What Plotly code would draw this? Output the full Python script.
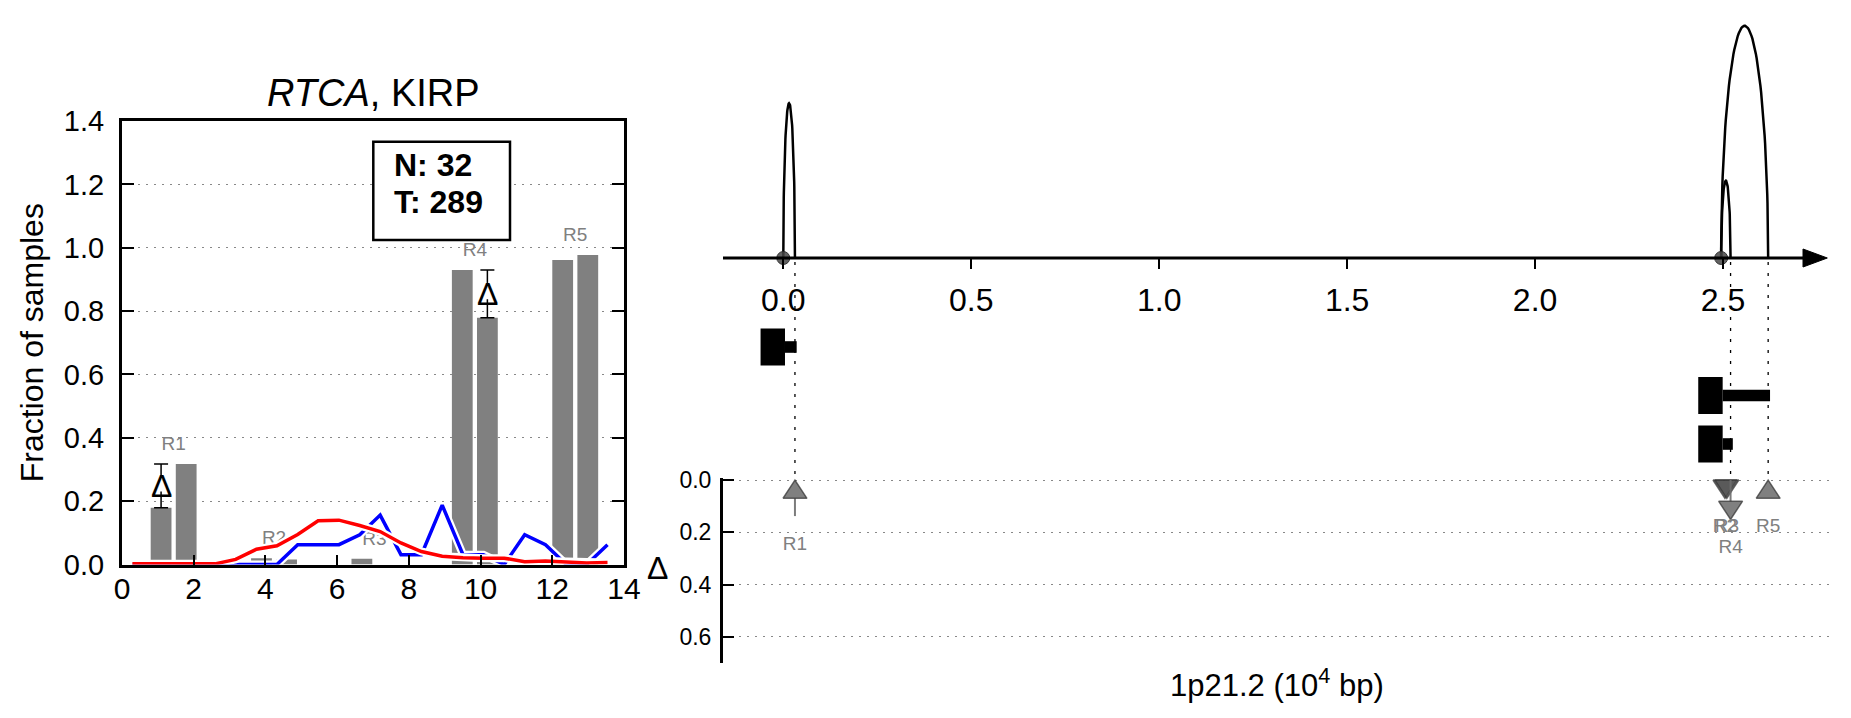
import numpy as np
import plotly.graph_objects as go

W, H = 1851, 718
FONT = "Liberation Sans, Arial, sans-serif"

# ------------------------------------------------------------------ data
gene_name = "RTCA"
cancer_type = "KIRP"
n_normal = 32
n_tumor = 289
regions = ["R1", "R2", "R3", "R4", "R5"]
frac_first = [0.179, 0.020, 0.018, 0.930, 0.961]
frac_second = [0.317, 0.016, 0.000, 0.779, 0.977]
significant = [True, False, False, True, False]

dist_x = [0.29, 0.87, 1.44, 2.02, 2.59, 3.17, 3.75, 4.32, 4.90, 5.47, 6.05, 6.63,
          7.20, 7.78, 8.35, 8.93, 9.51, 10.08, 10.66, 11.23, 11.81, 12.39, 12.96, 13.54]
dist_normal = [0.0, 0.0, 0.0, 0.0, 0.0, 0.0, 0.0, 0.0, 0.0625, 0.0625, 0.0625, 0.094,
               0.156, 0.031, 0.031, 0.1875, 0.031, 0.031, 0.0, 0.094, 0.0625, 0.0, 0.0, 0.0625]
dist_tumor = [0.002, 0.002, 0.002, 0.002, 0.002, 0.016, 0.048, 0.059, 0.095, 0.138, 0.140, 0.123,
              0.104, 0.068, 0.041, 0.026, 0.021, 0.020, 0.020, 0.009, 0.011, 0.008, 0.005, 0.006]
left_xticks = [0, 2, 4, 6, 8, 10, 12, 14]
left_yticks = [0.0, 0.2, 0.4, 0.6, 0.8, 1.0, 1.2, 1.4]

arc_start = [0.0, 2.495, 2.495]
arc_end = [0.031, 2.520, 2.620]
arc_height = [0.6, 0.3, 0.9]
tx_start = [0.0045, 2.499, 2.499]
tx_end = [0.0356, 2.625, 2.526]
region_pos = [0.031, 2.505, 2.510, 2.520, 2.620]
right_xticks = [0.0, 0.5, 1.0, 1.5, 2.0, 2.5]
delta_ticks = [0.0, 0.2, 0.4, 0.6]
locus_title = "1p21.2 (10<sup>4</sup> bp)"

# ------------------------------------------------------------------ layout helpers
def pxx(p):
    return p / W

def pxy(p):
    return 1 - p / H

X0_PX, PX_PER = 783.3, 375.9        # right panel genomic axis mapping
R_LEFT, R_RIGHT = 723.0, 1830.0
x2_range = [(R_LEFT - X0_PX) / PX_PER, (R_RIGHT - X0_PX) / PX_PER]
AXIS_Y = 258.0
D0_PX, D_PER = 480.0, 261.4          # delta axis mapping

fig = go.Figure()

# ------------------------------------------------------------------ left panel
gc = [2.8 * i + 1.44 for i in range(len(regions))]
xa = [c - 0.35 for c in gc]
xb = [c + 0.35 for c in gc]
fig.add_trace(go.Bar(x=xa, y=frac_first, width=0.58, marker=dict(color="#808080", line=dict(width=0)),
                     xaxis="x", yaxis="y"))
fig.add_trace(go.Bar(x=xb, y=frac_second, width=0.58, marker=dict(color="#808080", line=dict(width=0)),
                     xaxis="x", yaxis="y"))
fig.add_trace(go.Scatter(x=gc, y=[max(a, b) + 0.06 for a, b in zip(frac_first, frac_second)],
                         mode="text", text=regions, textposition="middle center",
                         textfont=dict(size=19, color="#808080", family=FONT), cliponaxis=False,
                         xaxis="x", yaxis="y"))
for ys, col in [(dist_normal, "#0000ff"), (dist_tumor, "#ff0000")]:
    fig.add_trace(go.Scatter(x=dist_x, y=ys, mode="lines", line=dict(color="white", width=8),
                             xaxis="x", yaxis="y"))
    fig.add_trace(go.Scatter(x=dist_x, y=ys, mode="lines", line=dict(color=col, width=3.5),
                             xaxis="x", yaxis="y"))

for i, sig in enumerate(significant):
    if not sig:
        continue
    a, b = frac_first[i], frac_second[i]
    lo, hi = min(a, b), max(a, b)
    xc = xa[i] if a < b else xb[i]
    fig.add_trace(go.Scatter(x=[xc], y=[lo], mode="markers",
                             marker=dict(size=1, color="rgba(0,0,0,0)"),
                             error_y=dict(type="data", symmetric=False, array=[hi - lo], arrayminus=[0],
                                          color="black", thickness=1.5, width=7),
                             xaxis="x", yaxis="y"))
    fig.add_trace(go.Scatter(x=[xc], y=[(lo + hi) / 2], mode="markers",
                             marker=dict(symbol="triangle-up", size=22, color="white"),
                             xaxis="x", yaxis="y"))
    fig.add_annotation(x=xc, y=(lo + hi) / 2, xref="x", yref="y", text="Δ", showarrow=False,
                       font=dict(size=32, color="black", family=FONT), xanchor="center", yanchor="middle")

# title, y label, N/T box
fig.add_annotation(x=pxx(373), y=pxy(92.5), xref="paper", yref="paper",
                   text=f"<i>{gene_name}</i>, {cancer_type}", showarrow=False,
                   font=dict(size=38, color="black", family=FONT), xanchor="center", yanchor="middle")
fig.add_annotation(x=pxx(31.6), y=pxy(342.7), xref="paper", yref="paper", text="Fraction of samples",
                   textangle=-90, showarrow=False, font=dict(size=32, color="black", family=FONT),
                   xanchor="center", yanchor="middle")
fig.add_shape(type="rect", xref="paper", yref="paper", x0=pxx(373.3), x1=pxx(510),
              y0=pxy(240), y1=pxy(141.7), line=dict(color="black", width=2.5), fillcolor="white",
              layer="above")
fig.add_annotation(x=pxx(391.7), y=pxy(165.5), xref="paper", yref="paper", text=f"<b>N: {n_normal}</b>",
                   showarrow=False, font=dict(size=32, color="black", family=FONT),
                   xanchor="left", yanchor="middle")
fig.add_annotation(x=pxx(391.7), y=pxy(202), xref="paper", yref="paper", text=f"<b>T: {n_tumor}</b>",
                   showarrow=False, font=dict(size=32, color="black", family=FONT),
                   xanchor="left", yanchor="middle")

# ------------------------------------------------------------------ right panel: arcs
t = np.linspace(0, np.pi, 80)
for s, e, h in zip(arc_start, arc_end, arc_height):
    c, r = (s + e) / 2, (e - s) / 2
    fig.add_trace(go.Scatter(x=c + r * np.cos(t), y=h * np.sin(t), mode="lines",
                             line=dict(color="black", width=2.5), xaxis="x2", yaxis="y2"))
starts = sorted(set(arc_start))
fig.add_trace(go.Scatter(x=starts, y=[0] * len(starts), mode="markers", cliponaxis=False,
                         marker=dict(size=13, color="rgba(70,70,70,0.85)",
                                     line=dict(color="rgba(40,40,40,0.9)", width=1)),
                         xaxis="x2", yaxis="y2"))

# genomic axis line + arrow head
x_line_end = (1803 - X0_PX) / PX_PER
x_tip = (1827.3 - X0_PX) / PX_PER
fig.add_shape(type="line", xref="x2", yref="paper", x0=x2_range[0], x1=x_line_end,
              y0=pxy(AXIS_Y), y1=pxy(AXIS_Y), line=dict(color="black", width=3), layer="above")
fig.add_shape(type="path", xref="x2", yref="paper",
              path=f"M {x_line_end},{pxy(AXIS_Y - 9)} L {x_tip},{pxy(AXIS_Y)} L {x_line_end},{pxy(AXIS_Y + 9)} Z",
              fillcolor="black", line=dict(color="black", width=1), layer="above")

# dotted guide lines from arc ends
for e in arc_end:
    fig.add_shape(type="line", xref="x2", yref="paper", x0=e, x1=e, y0=pxy(AXIS_Y + 4), y1=pxy(D0_PX),
                  line=dict(color="black", width=1.3, dash="3px,8px"), layer="below")

# transcript glyphs
for i, (s, e) in enumerate(zip(tx_start, tx_end)):
    yc = 347 + 48.5 * i
    fig.add_shape(type="rect", xref="x2", yref="paper", x0=s - 0.065, x1=s,
                  y0=pxy(yc + 18.5), y1=pxy(yc - 18.5), fillcolor="black", line=dict(width=0))
    fig.add_shape(type="rect", xref="x2", yref="paper", x0=s, x1=e,
                  y0=pxy(yc + 5.8), y1=pxy(yc - 5.8), fillcolor="black", line=dict(width=0))

# ------------------------------------------------------------------ right panel: delta track
TRI_H = 0.07
TRI_HW = 12.0 / PX_PER
lab_x, lab_y = [], []
for i, name in enumerate(regions):
    d = frac_second[i] - frac_first[i]
    L = max(abs(d), TRI_H)
    p = region_pos[i]
    if d > 0:
        tri_y = [TRI_H, TRI_H, 0.0, TRI_H]
        stem = (TRI_H, L)
    else:
        tri_y = [L - TRI_H, L - TRI_H, L, L - TRI_H]
        stem = (0.0, L - TRI_H)
    if stem[1] > stem[0]:
        fig.add_trace(go.Scatter(x=[p, p], y=list(stem), mode="lines",
                                 line=dict(color="rgba(110,110,110,0.9)", width=2),
                                 xaxis="x2", yaxis="y3"))
    fig.add_trace(go.Scatter(x=[p - TRI_HW, p + TRI_HW, p, p - TRI_HW], y=tri_y, mode="lines",
                             fill="toself", fillcolor="rgba(74,74,74,0.7)",
                             line=dict(color="rgba(50,50,50,0.7)", width=1.5),
                             xaxis="x2", yaxis="y3"))
    lab_x.append(p)
    lab_y.append(L + 0.112)
fig.add_trace(go.Scatter(x=lab_x, y=lab_y, mode="text", text=regions, textposition="middle center",
                         textfont=dict(size=19, color="#808080", family=FONT), cliponaxis=False,
                         xaxis="x2", yaxis="y3"))

fig.add_annotation(x=pxx(657.5), y=pxy(568), xref="paper", yref="paper", text="Δ", showarrow=False,
                   font=dict(size=32, color="black", family=FONT), xanchor="center", yanchor="middle")
fig.add_annotation(x=pxx(1277), y=pxy(683), xref="paper", yref="paper", text=locus_title, showarrow=False,
                   font=dict(size=31, color="black", family=FONT), xanchor="center", yanchor="middle")

# ------------------------------------------------------------------ axes
d_top = -0.006
fig.update_layout(
    template="none",
    width=W, height=H, margin=dict(l=0, r=0, t=0, b=0, autoexpand=False), showlegend=False,
    paper_bgcolor="white", plot_bgcolor="white", barmode="overlay",
    font=dict(family=FONT, color="black"),
    xaxis=dict(domain=[pxx(122), pxx(624)], range=[0, 14], anchor="y", showline=True, linewidth=3,
               linecolor="black", mirror=True, ticks="inside", ticklen=10, tickwidth=1.5,
               tickcolor="black", tickvals=left_xticks, tickfont=dict(size=30, color="black"),
               showgrid=False, zeroline=False, ticklabelstandoff=-5, automargin=False),
    yaxis=dict(domain=[pxy(564.5), pxy(121)], range=[0, 1.4], anchor="x", showline=True, linewidth=3,
               linecolor="black", mirror="ticks", ticks="inside", ticklen=12, tickwidth=1.5,
               tickcolor="black", tickvals=left_yticks, tickformat=".1f",
               tickfont=dict(size=29, color="black"), showgrid=True, gridcolor="#888888",
               griddash="2px,6px", gridwidth=1, zeroline=False, ticklabelstandoff=9, automargin=False),
    xaxis2=dict(domain=[pxx(R_LEFT), pxx(R_RIGHT)], range=x2_range, anchor="y2", showline=False,
                ticks="outside", ticklen=10, tickwidth=1.5, tickcolor="black", tickvals=right_xticks,
                tickformat=".1f", tickfont=dict(size=32, color="black"), showgrid=False, zeroline=False,
                ticklabelstandoff=4, automargin=False),
    yaxis2=dict(domain=[pxy(AXIS_Y), 1.0], range=[0, 1.0], anchor="x2", visible=False, automargin=False),
    yaxis3=dict(domain=[pxy(D0_PX + 0.7 * D_PER), pxy(D0_PX + d_top * D_PER)], range=[0.7, d_top],
                anchor="x2", showline=True, linewidth=3, linecolor="black", ticks="inside", ticklen=11,
                tickwidth=1.5, tickcolor="black", tickvals=delta_ticks, tickformat=".1f",
                tickfont=dict(size=23, color="black"), showgrid=True, gridcolor="#888888",
                griddash="2px,6px", gridwidth=1, zeroline=False, ticklabelstandoff=4, automargin=False),
)

fig.write_html("out.html", config={"displayModeBar": False},
               post_script="document.body.style.margin='0px';document.body.style.overflow='hidden';")
